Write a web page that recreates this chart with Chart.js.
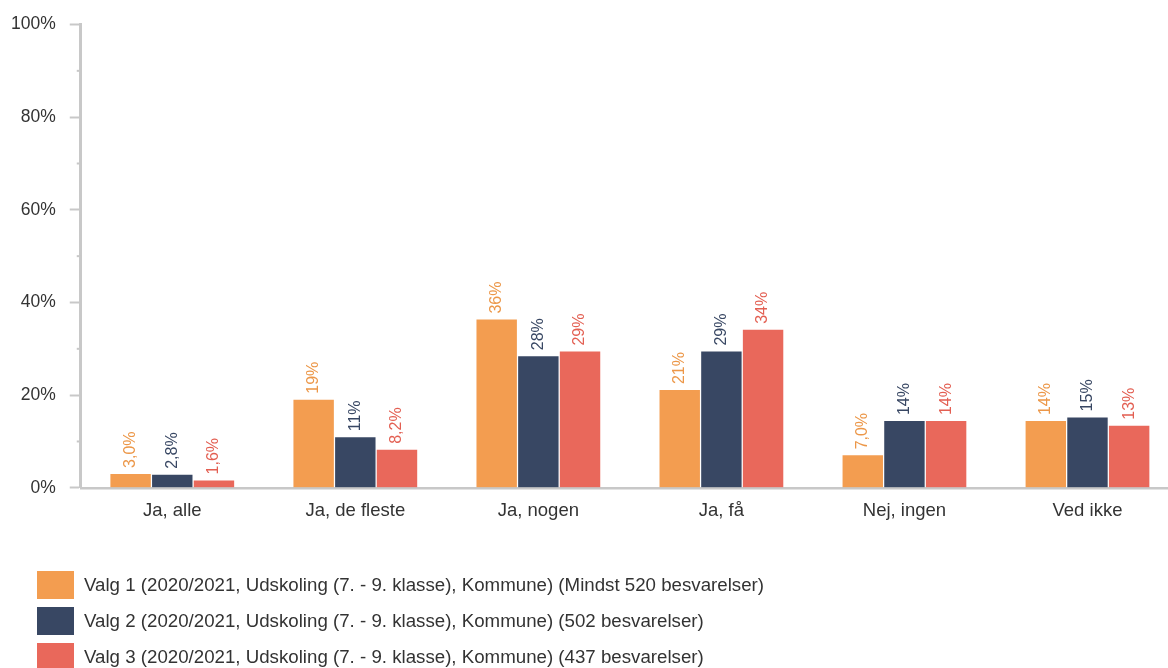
<!DOCTYPE html>
<html>
<head>
<meta charset="utf-8">
<script src="https://cdn.jsdelivr.net/npm/chart.js@4/dist/chart.umd.min.js"></script>
<style>
  html, body { margin: 0; padding: 0; background: #fff; overflow: hidden; }
  .wrap { position: relative; width: 1168px; height: 668px; overflow: hidden; }
  #chart { position: absolute; left: -3px; top: 0; }
  .legend { position: absolute; left: 37px; top: 571px; font-family: "Liberation Sans", Arial, sans-serif; font-size: 18.7px; color: #333; }
  .legend .row { display: flex; align-items: center; height: 28px; margin-bottom: 8px; white-space: nowrap; }
  .legend .box { width: 37px; height: 28px; margin-right: 10px; flex: none; }
</style>
</head>
<body>
<div class="wrap">
  <canvas id="chart" width="1187" height="668"></canvas>
  <div class="legend" id="legend"></div>
</div>
<script>
// categories and values (percent)
const categories = ['Ja, alle', 'Ja, de fleste', 'Ja, nogen', 'Ja, få', 'Nej, ingen', 'Ved ikke'];
const seriesNames = [
  'Valg 1 (2020/2021, Udskoling (7. - 9. klasse), Kommune) (Mindst 520 besvarelser)',
  'Valg 2 (2020/2021, Udskoling (7. - 9. klasse), Kommune) (502 besvarelser)',
  'Valg 3 (2020/2021, Udskoling (7. - 9. klasse), Kommune) (437 besvarelser)'
];
const valg1 = [3.0, 19.0, 36.3, 21.1, 7.0, 14.4];
const valg2 = [2.8, 10.9, 28.4, 29.4, 14.4, 15.2];
const valg3 = [1.6, 8.2, 29.4, 34.1, 14.4, 13.4];
const barColors = ['#F39D50', '#384763', '#E9685B'];
const labelColors = ['#EC9748', '#384763', '#E35F52'];
const minorTicks = [10, 30, 50, 70, 90];

function fmt(v) {
  return v < 10 ? v.toFixed(1).replace('.', ',') + '%' : Math.round(v) + '%';
}

// rotated value labels above each bar
const barLabels = {
  id: 'barLabels',
  afterDatasetsDraw(chart) {
    const ctx = chart.ctx;
    chart.data.datasets.forEach((ds, i) => {
      const meta = chart.getDatasetMeta(i);
      meta.data.forEach((bar, j) => {
        ctx.save();
        ctx.translate(bar.x, bar.y - 6);
        ctx.rotate(-Math.PI / 2);
        ctx.font = '16px "Liberation Sans", Arial, sans-serif';
        ctx.fillStyle = labelColors[i];
        ctx.textAlign = 'left';
        ctx.textBaseline = 'middle';
        ctx.fillText(fmt(ds.data[j]), 0, 0);
        ctx.restore();
      });
    });
  }
};

// short minor tick marks on the y axis
const minorTickMarks = {
  id: 'minorTickMarks',
  afterDraw(chart) {
    const ctx = chart.ctx;
    const y = chart.scales.y;
    ctx.save();
    ctx.strokeStyle = '#c8c8c8';
    ctx.lineWidth = 2;
    minorTicks.forEach(v => {
      const py = y.getPixelForValue(v);
      ctx.beginPath();
      ctx.moveTo(y.right - 4, py);
      ctx.lineTo(y.right, py);
      ctx.stroke();
    });
    ctx.restore();
  }
};

const chart = new Chart(document.getElementById('chart'), {
  type: 'bar',
  data: {
    labels: categories,
    datasets: [valg1, valg2, valg3].map((d, i) => ({
      label: seriesNames[i],
      data: d,
      backgroundColor: barColors[i],
      categoryPercentage: 0.683,
      barPercentage: 0.97
    }))
  },
  options: {
    responsive: false,
    animation: false,
    layout: { padding: { left: 0, right: 5, top: 22, bottom: 142 } },
    plugins: {
      legend: { display: false },
      tooltip: { enabled: false }
    },
    scales: {
      x: {
        grid: { display: false },
        border: { color: '#c8c8c8', width: 2.5 },
        ticks: {
          color: '#333',
          padding: 4,
          font: { family: '"Liberation Sans", Arial, sans-serif', size: 18.5 }
        }
      },
      y: {
        min: 0,
        max: 100,
        grid: { drawOnChartArea: false, tickLength: 11, tickColor: '#c8c8c8', tickWidth: 2 },
        border: { color: '#c8c8c8', width: 3 },
        ticks: {
          stepSize: 20,
          padding: 14,
          color: '#333',
          font: { family: '"Liberation Sans", Arial, sans-serif', size: 17.5 },
          callback: v => v + '%'
        }
      }
    }
  },
  plugins: [barLabels, minorTickMarks]
});

// legend built from the chart's datasets
const legendEl = document.getElementById('legend');
chart.data.datasets.forEach(ds => {
  const row = document.createElement('div');
  row.className = 'row';
  const box = document.createElement('span');
  box.className = 'box';
  box.style.background = ds.backgroundColor;
  const txt = document.createElement('span');
  txt.textContent = ds.label;
  row.appendChild(box);
  row.appendChild(txt);
  legendEl.appendChild(row);
});
</script>
</body>
</html>
